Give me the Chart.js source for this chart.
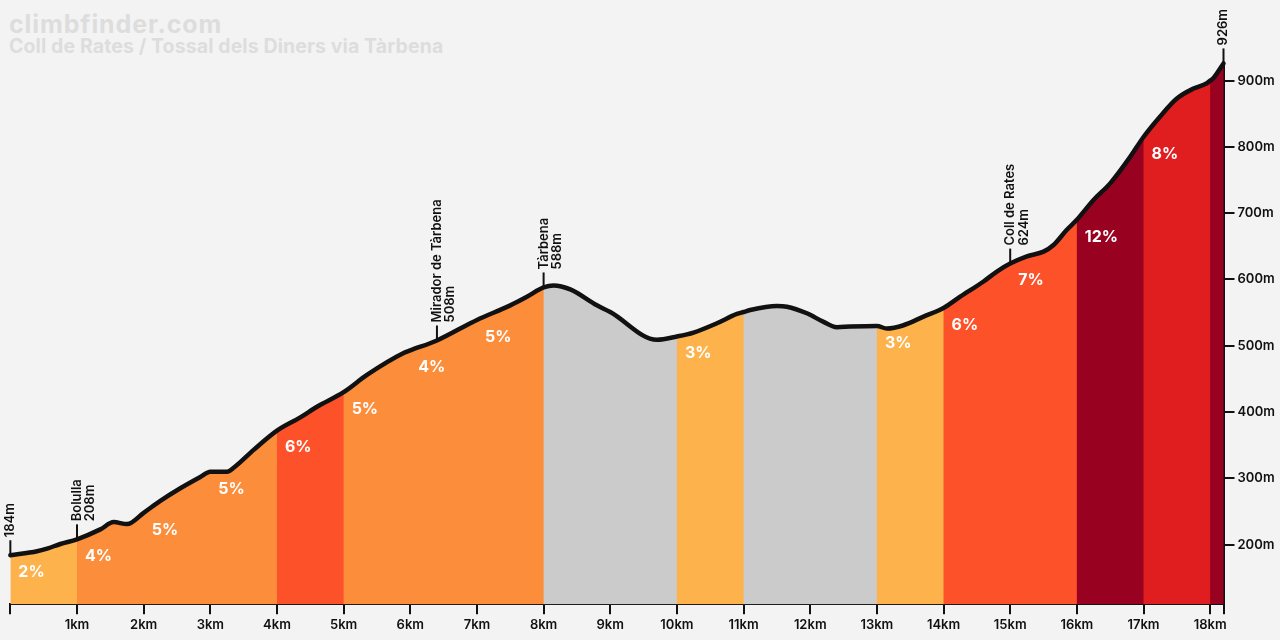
<!DOCTYPE html>
<html><head><meta charset="utf-8">
<script src="https://cdn.jsdelivr.net/npm/chart.js@4.4.1/dist/chart.umd.min.js"></script>
<style>
html,body{margin:0;padding:0;background:#f3f3f3;}
#wrap{position:relative;width:1280px;height:640px;overflow:hidden;background:#f3f3f3;}
#c{position:absolute;left:0;top:0;}
.t1{position:absolute;left:9px;top:9px;font:700 25px Inter,sans-serif;color:#dddddd;letter-spacing:0.9px;white-space:nowrap}
.t2{position:absolute;left:9px;top:34px;font:700 19.5px Inter,sans-serif;color:#dddddd;letter-spacing:0.1px;white-space:nowrap}
</style></head>
<body>
<div id="wrap">
<div class="t1">climbfinder.com</div>
<div class="t2">Coll de Rates / Tossal dels Diners via Tàrbena</div>
<canvas id="c" width="1280" height="640"></canvas>
</div>
<script>
// ---- data ----
const distanceKm = [0,0.4,0.55,0.75,1,1.35,1.55,1.75,2,2.25,2.55,2.85,3,3.25,3.35,3.65,4,4.35,4.6,5,5.35,5.9,6,6.4,6.9,7,7.5,7.75,8,8.15,8.4,8.8,9,9.7,10,10.25,10.6,10.9,11,11.1,11.5,11.65,11.95,12.2,12.4,12.6,13,13.15,13.4,13.7,14,14.25,14.6,14.8,15,15.25,15.5,15.65,15.85,16,16.25,16.5,16.8,17,17.25,17.5,17.75,17.95,18,18.05,18.2];
const elevationM = [184,190,194,201,208,223,234,231,248,266,285,302,310,310,316,343,372,392,408,430,456,489,493,508,534,539,561,574,588,591,585,561,551,509,514,520,534,548,551,554,560,559,549,536,528,529,530,526,531,544,557,574,597,612,624,635,642,652,675,690,720,745,785,815,846,873,888,896,900,904,926];
const segmentStartKm = [0,1,2,3,4,5,6,7,8,9,10,11,12,13,14,15,16,17,18];
const gradientPct = [2,4,5,5,6,5,4,5,-4,-4,3,0,-2,3,6,7,12,8,13];
const xTickKm = [0,1,2,3,4,5,6,7,8,9,10,11,12,13,14,15,16,17,18,18.2];
const xTickLabels = ['','1km','2km','3km','4km','5km','6km','7km','8km','9km','10km','11km','12km','13km','14km','15km','16km','17km','18km',''];
const yTickM = [200,300,400,500,600,700,800,900];
const yTickLabels = ['200m','300m','400m','500m','600m','700m','800m','900m'];
const waypointKm = [0,1,6.4,8,15,18.2];
const waypointName = ['','Bolulla','Mirador de Tàrbena','Tàrbena','Coll de Rates',''];
const waypointElev = [184,208,508,588,624,926];

const FONT = 'Inter, "Open Sans", sans-serif';
function gradeColor(g){
  if(g<=0) return '#cbcbcb';
  if(g<4) return '#fdb24c';
  if(g<6) return '#fb8d3b';
  if(g<8) return '#fd5129';
  if(g<10) return '#e01d1f';
  return '#990121';
}

// coloured gradient bands under the profile line
const bands = {
  id:'bands',
  beforeDatasetsDraw(chart){
    const meta=chart.getDatasetMeta(0);
    const line=meta.dataset, pts=meta.data;
    const {ctx, chartArea, scales:{x}} = chart;
    line.updateControlPoints(chartArea,'x');
    ctx.save();
    ctx.beginPath();
    line.path(ctx);
    ctx.lineTo(pts[pts.length-1].x, chartArea.bottom);
    ctx.lineTo(pts[0].x, chartArea.bottom);
    ctx.closePath();
    ctx.clip();
    for(let k=0;k<segmentStartKm.length;k++){
      const s=segmentStartKm[k], e=Math.min(s+1, x.max);
      const x0=x.getPixelForValue(s), x1=x.getPixelForValue(e);
      const last = k===segmentStartKm.length-1;
      ctx.fillStyle=gradeColor(gradientPct[k]);
      ctx.fillRect(x0, chartArea.top-30, (x1-x0)+(last?2:1), chartArea.bottom-chartArea.top+30);
    }
    ctx.restore();
  }
};

const overlay = {
  id:'overlay',
  afterDatasetsDraw(chart){
    const {ctx, scales:{x,y}} = chart;
    ctx.save();
    ctx.fillStyle='#ffffff';
    ctx.font='700 16px '+FONT;
    ctx.textAlign='left'; ctx.textBaseline='middle';
    for(let k=0;k<segmentStartKm.length;k++){
      const s=segmentStartKm[k], e=Math.min(s+1, x.max);
      if(gradientPct[k]<=0 || e-s<0.999) continue;
      const idx=distanceKm.indexOf(s);
      const px=x.getPixelForValue(s)+8;
      const py=y.getPixelForValue(elevationM[idx])+17;
      ctx.fillText(gradientPct[k]+'%', px, py);
    }
    ctx.fillStyle='#111'; ctx.strokeStyle='#111'; ctx.lineWidth=2;
    ctx.font='600 13px '+FONT;
    for(let i=0;i<waypointKm.length;i++){
      const px=x.getPixelForValue(waypointKm[i]);
      const py=y.getPixelForValue(waypointElev[i]);
      ctx.beginPath(); ctx.moveTo(px,py-1); ctx.lineTo(px,py-15); ctx.stroke();
      ctx.save();
      ctx.translate(px,py-18); ctx.rotate(-Math.PI/2);
      ctx.textAlign='left'; ctx.textBaseline='middle';
      if(waypointName[i]){
        ctx.fillText(waypointName[i],0,0);
        ctx.fillText(waypointElev[i]+'m',0,13.5);
      } else {
        ctx.fillText(waypointElev[i]+'m',0,0);
      }
      ctx.restore();
    }
    ctx.restore();
  }
};

new Chart(document.getElementById('c'),{
  type:'line',
  data:{datasets:[{
    data: distanceKm.map((d,i)=>({x:d,y:elevationM[i]})),
    borderColor:'#111',
    borderWidth:4.5,
    borderJoinStyle:'round',
    borderCapStyle:'round',
    pointRadius:0,
    cubicInterpolationMode:'monotone',
    fill:false,
    clip:false
  }]},
  options:{
    responsive:false,
    animation:false,
    devicePixelRatio:1,
    layout:{padding:{left:10.35,top:63.4,right:0,bottom:0}},
    plugins:{legend:{display:false},tooltip:{enabled:false},title:{display:false}},
    scales:{
      x:{
        type:'linear', position:'bottom', min:0, max:18.2,
        border:{display:true,color:'#111',width:2},
        grid:{display:true,drawOnChartArea:false,drawTicks:true,tickLength:10,color:'#111',lineWidth:2},
        ticks:{autoSkip:false,maxRotation:0,padding:3,color:'#111',font:{family:FONT,size:13,weight:'600'},
          callback:(v,i)=>xTickLabels[i]},
        afterBuildTicks:s=>{s.ticks=xTickKm.map(v=>({value:v}));},
        afterFit:s=>{s.height=35.7;}
      },
      y:{
        type:'linear', position:'right', min:110, max:926,
        border:{display:true,color:'#111',width:2},
        grid:{display:true,drawOnChartArea:false,drawTicks:true,tickLength:11,color:'#111',lineWidth:2},
        ticks:{padding:3,color:'#111',font:{family:FONT,size:13,weight:'600'},
          callback:(v,i)=>yTickLabels[i]},
        afterBuildTicks:s=>{s.ticks=yTickM.map(v=>({value:v}));},
        afterFit:s=>{s.width=56.5;}
      }
    }
  },
  plugins:[bands, overlay]
});
</script>
</body></html>
